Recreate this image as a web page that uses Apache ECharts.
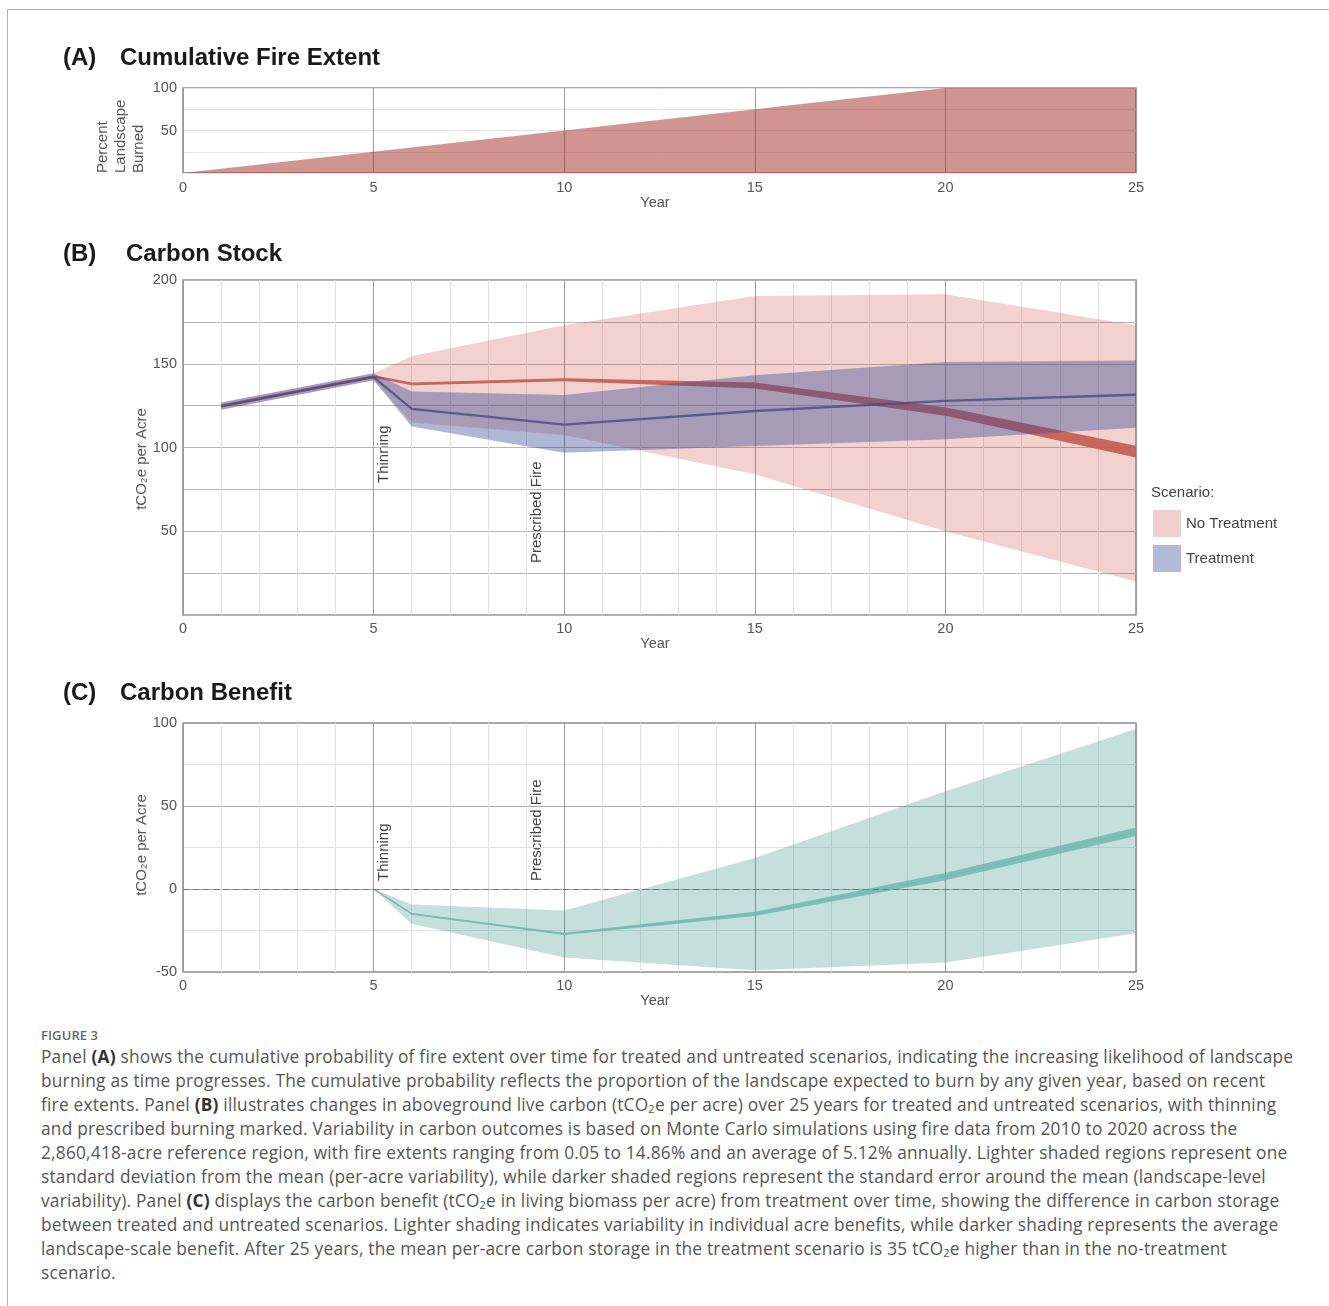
<!DOCTYPE html>
<html>
<head>
<meta charset="utf-8">
<script src="https://cdn.jsdelivr.net/npm/echarts@6/dist/echarts.min.js"></script>
<style>
  html, body { margin: 0; padding: 0; background: #fff; }
  #wrap { position: relative; width: 1329px; height: 1306px; overflow: hidden; }
  #frame { position: absolute; left: 7px; top: 9px; right: -5px; bottom: -5px; border-top: 1.5px solid #b0b0b0; border-left: 1.5px solid #b0b0b0; }
  #chart { position: absolute; left: 0; top: 0; width: 1329px; height: 1020px; }
  #caption { position: absolute; left: 41px; top: 1025px; font-family: "Open Sans", Lato, sans-serif; color: #555; }
  #caption .fig { font-size: 13px; line-height: 20px; color: #666; font-weight: 600; letter-spacing: 0.1px; }
  #caption .ln { font-size: 17.3px; line-height: 24px; letter-spacing: 0.22px; white-space: nowrap; }
  #caption b { color: #333; }
  #caption sub { font-size: 11px; vertical-align: -2px; line-height: 0; }
</style>
</head>
<body>
<div id="wrap">
  <div id="frame"></div>
  <div id="chart"></div>
  <div id="caption">
    <div class="fig">FIGURE 3</div>
    <div class="ln">Panel <b>(A)</b> shows the cumulative probability of fire extent over time for treated and untreated scenarios, indicating the increasing likelihood of landscape</div>
    <div class="ln">burning as time progresses. The cumulative probability reflects the proportion of the landscape expected to burn by any given year, based on recent</div>
    <div class="ln">fire extents. Panel <b>(B)</b> illustrates changes in aboveground live carbon (tCO<sub>2</sub>e per acre) over 25 years for treated and untreated scenarios, with thinning</div>
    <div class="ln">and prescribed burning marked. Variability in carbon outcomes is based on Monte Carlo simulations using fire data from 2010 to 2020 across the</div>
    <div class="ln">2,860,418-acre reference region, with fire extents ranging from 0.05 to 14.86% and an average of 5.12% annually. Lighter shaded regions represent one</div>
    <div class="ln">standard deviation from the mean (per-acre variability), while darker shaded regions represent the standard error around the mean (landscape-level</div>
    <div class="ln">variability). Panel <b>(C)</b> displays the carbon benefit (tCO<sub>2</sub>e in living biomass per acre) from treatment over time, showing the difference in carbon storage</div>
    <div class="ln">between treated and untreated scenarios. Lighter shading indicates variability in individual acre benefits, while darker shading represents the average</div>
    <div class="ln">landscape-scale benefit. After 25 years, the mean per-acre carbon storage in the treatment scenario is 35 tCO<sub>2</sub>e higher than in the no-treatment</div>
    <div class="ln">scenario.</div>
  </div>
</div>
<script>
// Panel A - cumulative fire extent
const fireYears = [0, 5, 10, 15, 20, 25]
const fireExtent = [0, 25, 50, 75, 100, 100]

// Panel B - carbon stock (tCO2e per acre)
const stockYears = [1, 5, 6, 10, 15, 20, 25]
const noTrtSdLow = [122.6, 140.2, 115, 107.5, 84, 50, 20]
const noTrtSdHigh = [126.8, 144.4, 154.5, 173, 190.5, 191.5, 173]
const noTrtSeLow = [124.2, 141.7, 137.2, 139.6, 135.2, 119, 94]
const noTrtSeHigh = [125.6, 143.1, 138.8, 141.4, 138.8, 124, 101]
const trtSdLow = [122.6, 140.2, 112.5, 96.8, 100.9, 104.9, 111.8]
const trtSdHigh = [126.8, 144.4, 133.5, 131.3, 143.1, 151, 152]
const trtMean = [124.5, 142, 123, 113.7, 121.8, 127.8, 131.5]

// Panel C - carbon benefit
const benefitYears = [5, 6, 10, 15, 20, 25]
const benefitSdLow = [0, -21, -41.3, -49, -44.3, -26.7]
const benefitSdHigh = [0, -9.4, -13, 18.6, 58.9, 96.4]
const benefitSeLow = [0, -15.5, -27.7, -16.3, 5.2, 31.9]
const benefitSeHigh = [0, -14.5, -26.3, -13.7, 9.6, 37.1]
const benefitMean = [0, -15, -27, -15, 7.4, 34.5]

const yearTicks = [0, 5, 10, 15, 20, 25]

const FONT = '"Liberation Sans", Arial, sans-serif'
const pairs = (xs, ys) => xs.map((x, i) => [x, ys[i]])

// shaded band between lo and hi, drawn as one polygon through the axis scales
function band (name, idx, xs, lo, hi, color) {
  const rows = xs.map((x, i) => [x, lo[i], hi[i]])
  return {
    name: name,
    type: 'custom',
    xAxisIndex: idx,
    yAxisIndex: idx,
    silent: true,
    itemStyle: { color: color },
    encode: { x: 0, y: [1, 2] },
    data: rows,
    renderItem: function (params, api) {
      if (params.dataIndex !== 0) return
      const top = rows.map(r => api.coord([r[0], r[2]]))
      const bottom = rows.map(r => api.coord([r[0], r[1]])).reverse()
      return {
        type: 'polygon',
        shape: { points: top.concat(bottom) },
        style: { fill: color }
      }
    }
  }
}

function xAxis (idx, minor, margin, gap) {
  return {
    type: 'value',
    gridIndex: idx,
    min: 0,
    max: 25,
    interval: 5,
    name: 'Year',
    nameLocation: 'middle',
    nameGap: gap,
    nameTextStyle: { fontFamily: FONT, fontSize: 14.5, color: '#555', padding: [0, 9, 0, 0] },
    axisLine: { show: false },
    axisTick: { show: false },
    axisLabel: { fontFamily: FONT, fontSize: 14.5, color: '#555', margin: margin, formatter: v => yearTicks.includes(v) ? String(v) : '' },
    splitLine: { show: true, lineStyle: { color: '#9a9a9a', width: 1 } },
    minorTick: { show: false, splitNumber: 5 },
    minorSplitLine: { show: minor, lineStyle: { color: '#e2e2e2', width: 1 } }
  }
}

function yAxis (idx, min, max, splitColor, showLabel) {
  return {
    type: 'value',
    gridIndex: idx,
    min: min,
    max: max,
    interval: 25,
    axisLine: { show: false },
    axisTick: { show: false },
    axisLabel: { fontFamily: FONT, fontSize: 14.5, color: '#555', margin: 6, formatter: v => showLabel(v) ? String(v) : '' },
    splitLine: { show: true, lineStyle: { color: splitColor, width: 1 } }
  }
}

const gridBase = { left: 183, width: 953, show: true, borderColor: '#8c8c8c', borderWidth: 1.5, backgroundColor: 'transparent' }

const chart = echarts.init(document.getElementById('chart'), null, { renderer: 'canvas' })

function txt (x, y, text, opts) {
  return {
    type: 'text',
    x: x,
    y: y,
    rotation: opts.rotate ? Math.PI / 2 : 0,
    silent: true,
    style: {
      text: text,
      font: opts.font || ('15px ' + FONT),
      fill: opts.fill || '#444',
      align: opts.align || 'left',
      verticalAlign: 'middle',
      lineHeight: opts.lineHeight
    }
  }
}

const titleFont = 'bold 24px ' + FONT

const option = {
  animation: false,
  grid: [
    Object.assign({ top: 88, height: 85 }, gridBase),
    Object.assign({ top: 280, height: 335 }, gridBase),
    Object.assign({ top: 723, height: 249 }, gridBase)
  ],
  xAxis: [
    xAxis(0, false, 7, 20),
    xAxis(1, true, 6, 19),
    xAxis(2, true, 6, 19)
  ],
  yAxis: [
    yAxis(0, 0, 100, '#e3e3e3', v => v === 50 || v === 100),
    yAxis(1, 0, 200, '#b4b4b4', v => v > 0 && v % 50 === 0),
    yAxis(2, -50, 100, ['#a8a8a8', '#e3e3e3'], v => v % 50 === 0)
  ],
  legend: {
    left: 1153,
    top: 510,
    padding: 0,
    orient: 'vertical',
    itemWidth: 28,
    itemHeight: 27,
    itemGap: 8,
    icon: 'rect',
    selectedMode: false,
    textStyle: { fontFamily: FONT, fontSize: 15, color: '#444' },
    data: [
      { name: 'No Treatment', itemStyle: { color: '#f0cfcf' } },
      { name: 'Treatment', itemStyle: { color: '#b3bbd9' } }
    ]
  },
  graphic: [
    txt(63, 58, '(A)', { font: titleFont, fill: '#1a1a1a' }),
    txt(120, 58, 'Cumulative Fire Extent', { font: titleFont, fill: '#1a1a1a' }),
    txt(63, 254, '(B)', { font: titleFont, fill: '#1a1a1a' }),
    txt(126, 254, 'Carbon Stock', { font: titleFont, fill: '#1a1a1a' }),
    txt(63, 693, '(C)', { font: titleFont, fill: '#1a1a1a' }),
    txt(120, 693, 'Carbon Benefit', { font: titleFont, fill: '#1a1a1a' }),
    txt(121, 173, 'Percent\nLandscape\nBurned', { rotate: true, fill: '#555', lineHeight: 18 }),
    txt(142, 459, 'tCO\u2082e per Acre', { rotate: true, fill: '#555', align: 'center' }),
    txt(142, 845, 'tCO\u2082e per Acre', { rotate: true, fill: '#555', align: 'center' }),
    txt(384, 483, 'Thinning', { rotate: true }),
    txt(537, 563, 'Prescribed Fire', { rotate: true }),
    txt(384, 881, 'Thinning', { rotate: true }),
    txt(537, 881, 'Prescribed Fire', { rotate: true }),
    txt(1151, 493, 'Scenario:', { fill: '#444' })
  ],
  series: [
    {
      name: 'Fire Extent',
      type: 'line',
      xAxisIndex: 0,
      yAxisIndex: 0,
      data: pairs(fireYears, fireExtent),
      symbol: 'none',
      silent: true,
      lineStyle: { opacity: 0 },
      areaStyle: { color: 'rgba(165, 50, 45, 0.52)', opacity: 1 }
    },
    band('No Treatment', 1, stockYears, noTrtSdLow, noTrtSdHigh, 'rgba(205, 70, 65, 0.25)'),
    band('No Treatment SE', 1, stockYears, noTrtSeLow, noTrtSeHigh, 'rgba(196, 92, 82, 0.92)'),
    band('Treatment', 1, stockYears, trtSdLow, trtSdHigh, 'rgba(55, 75, 150, 0.4)'),
    {
      name: 'Treatment Mean',
      type: 'line',
      xAxisIndex: 1,
      yAxisIndex: 1,
      data: pairs(stockYears, trtMean),
      symbol: 'none',
      silent: true,
      lineStyle: { color: '#4b4a80', width: 2.3, opacity: 0.8 }
    },
    band('Benefit SD', 2, benefitYears, benefitSdLow, benefitSdHigh, 'rgba(60, 150, 140, 0.3)'),
    band('Benefit SE', 2, benefitYears, benefitSeLow, benefitSeHigh, 'rgba(100, 180, 172, 0.75)'),
    {
      name: 'Benefit Mean',
      type: 'line',
      xAxisIndex: 2,
      yAxisIndex: 2,
      data: pairs(benefitYears, benefitMean),
      symbol: 'none',
      silent: true,
      z: 3,
      lineStyle: { color: '#7ab9b3', width: 1.3 },
      markLine: {
        silent: true,
        symbol: 'none',
        label: { show: false },
        lineStyle: { type: [6, 4], color: '#777', width: 1 },
        data: [{ yAxis: 0 }]
      }
    }
  ]
}

chart.setOption(option)
</script>
</body>
</html>
